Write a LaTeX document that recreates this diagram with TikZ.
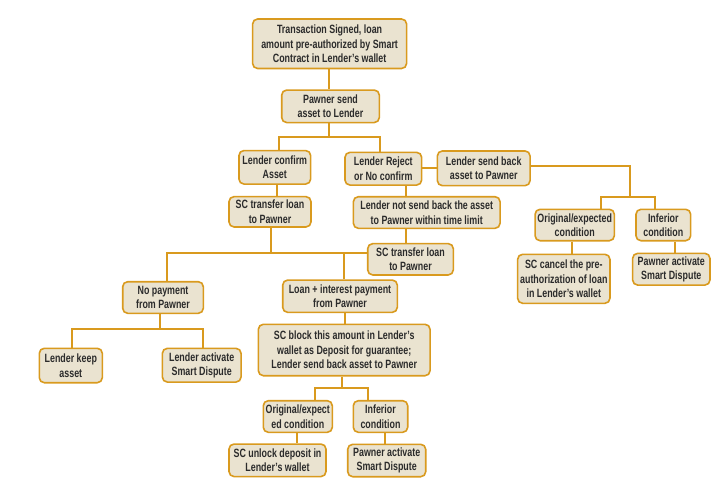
\documentclass[tikz,border=0pt]{standalone}
\usepackage{fontspec}
\setmainfont{Liberation Sans}[FakeStretch=0.74]
\definecolor{ocol}{HTML}{D99A1E}
\definecolor{bcol}{HTML}{EAE3D0}
\definecolor{tcol}{HTML}{2B2B2B}
\tikzset{
  box/.style={draw=ocol, fill=bcol, line width=1.6pt, rounded corners=5pt, align=center,
    inner sep=0pt, font=\fontsize{12}{14.5}\selectfont\bfseries, text=tcol},
  conn/.style={draw=ocol, line width=1.8pt}
}
\begin{document}
\begin{tikzpicture}[x=1pt,y=-1pt]
\useasboundingbox[fill=white] (0,0) rectangle (723,491);
% boxes
\node[box, minimum width=154pt, minimum height=49.5pt] (top) at (329.6,43.75) {Transaction Signed, loan\\amount pre-authorized by Smart\\Contract in Lender's wallet};
\node[box, minimum width=97.6pt, minimum height=32.5pt] (pawn) at (330.5,106.3) {Pawner send\\asset to Lender};
\node[box, minimum width=71.7pt, minimum height=33.5pt] (conf) at (274.8,167.3) {Lender confirm\\Asset};
\node[box, minimum width=76.7pt, minimum height=32.7pt] (rej) at (383.3,168.7) {Lender Reject\\or No confirm};
\node[box, minimum width=92.7pt, minimum height=34.7pt] (sb) at (483.7,168.3) {Lender send back\\asset to Pawner};
\node[box, minimum width=82pt, minimum height=30.3pt] (sctl) at (270,211.8) {SC transfer loan\\to Pawner};
\node[box, minimum width=146.7pt, minimum height=31.6pt] (nots) at (426.7,212.5) {Lender not send back the asset\\to Pawner within time limit};
\node[box, minimum width=85.6pt, minimum height=31.3pt] (scm) at (410.5,259.3) {SC transfer loan\\to Pawner};
\node[box, minimum width=79.3pt, minimum height=31.4pt] (orr) at (574.7,225) {Original/expected\\condition};
\node[box, minimum width=54.7pt, minimum height=31.4pt] (infr) at (663.3,225) {Inferior\\condition};
\node[box, minimum width=92.3pt, minimum height=49pt] (canc) at (563.8,278.8) {SC cancel the pre-\\authorization of loan\\in Lender's wallet};
\node[box, minimum width=77.3pt, minimum height=31.7pt] (par) at (671.3,269.2) {Pawner activate\\Smart Dispute};
\node[box, minimum width=80.6pt, minimum height=31.6pt] (nop) at (163,297.5) {No payment\\from Pawner};
\node[box, minimum width=114.6pt, minimum height=32.3pt] (loan) at (340,296.2) {Loan + interest payment\\from Pawner};
\node[box, minimum width=63pt, minimum height=34.4pt] (keep) at (70.8,365.5) {Lender keep\\asset};
\node[box, minimum width=78.7pt, minimum height=33.7pt] (lact) at (201.7,365.2) {Lender activate\\Smart Dispute};
\node[box, minimum width=171.7pt, minimum height=51.4pt] (blk) at (344.2,350) {SC block this amount in Lender's\\wallet as Deposit for guarantee;\\Lender send back asset to Pawner};
\node[box, minimum width=69pt, minimum height=31.6pt] (orb) at (297.8,416.5) {Original/expect\\ed condition};
\node[box, minimum width=54.4pt, minimum height=31.6pt] (infb) at (380.5,416.5) {Inferior\\condition};
\node[box, minimum width=97pt, minimum height=32.5pt] (unl) at (277.5,460.3) {SC unlock deposit in\\Lender's wallet};
\node[box, minimum width=78pt, minimum height=32.4pt] (pab) at (386.7,460.5) {Pawner activate\\Smart Dispute};
% junctions
\coordinate (b1) at (329,136.7);
\coordinate (j1) at (630,196.7);
\coordinate (j2) at (271,253.3);
\coordinate (j3) at (160,329);
\coordinate (j4) at (342.3,388.3);
% connectors
\draw[conn] ([xshift=-0.6pt]top.south) -- ([xshift=-0.6pt]top.south |- pawn.north);
\draw[conn] ([xshift=-1.5pt]pawn.south) -- (b1);
\draw[conn] ([xshift=4.5pt]conf.north) |- (b1) -| ([xshift=-3.3pt]rej.north);
\draw[conn] ([xshift=2.5pt]conf.south) -- ([xshift=2.5pt]conf.south |- sctl.north);
\draw[conn] ([xshift=22.4pt]rej.south) -- ([xshift=22.4pt]rej.south |- nots.north);
\draw[conn] ([xshift=-21pt]nots.south) -- ([xshift=-21pt]nots.south |- scm.north);
\draw[conn] ([yshift=1pt]rej.east) -- ([yshift=1pt]rej.east -| sb.west);
\draw[conn] ([yshift=2.3pt]sb.east) -| (j1);
\draw[conn] ([xshift=26pt]orr.north) |- (j1) -| ([xshift=-8.3pt]infr.north);
\draw[conn] ([xshift=-3pt]orr.south) -- ([xshift=-3pt]orr.south |- canc.north);
\draw[conn] ([xshift=11.7pt]infr.south) -- ([xshift=11.7pt]infr.south |- par.north);
\draw[conn] ([xshift=1pt]sctl.south) -- (j2);
\draw[conn] ([xshift=3.7pt]nop.north) |- ([yshift=6pt]scm.west);
\draw[conn] ([xshift=4.3pt]loan.north) -- ([xshift=4.3pt]loan.north |- j2);
\draw[conn] ([xshift=-3pt]nop.south) -- (j3);
\draw[conn] ([xshift=0.9pt]keep.north) |- (j3) -| ([xshift=1.6pt]lact.north);
\draw[conn] ([xshift=5pt]loan.south) -- ([xshift=5pt]loan.south |- blk.north);
\draw[conn] ([xshift=-1.9pt]blk.south) -- (j4);
\draw[conn] ([xshift=17.2pt]orb.north) |- (j4) -| ([xshift=-12.2pt]infb.north);
\draw[conn] ([xshift=-1.1pt]orb.south) -- ([xshift=-1.1pt]orb.south |- unl.north);
\draw[conn] ([xshift=4.5pt]infb.south) -- ([xshift=4.5pt]infb.south |- pab.north);
\end{tikzpicture}
\end{document}
